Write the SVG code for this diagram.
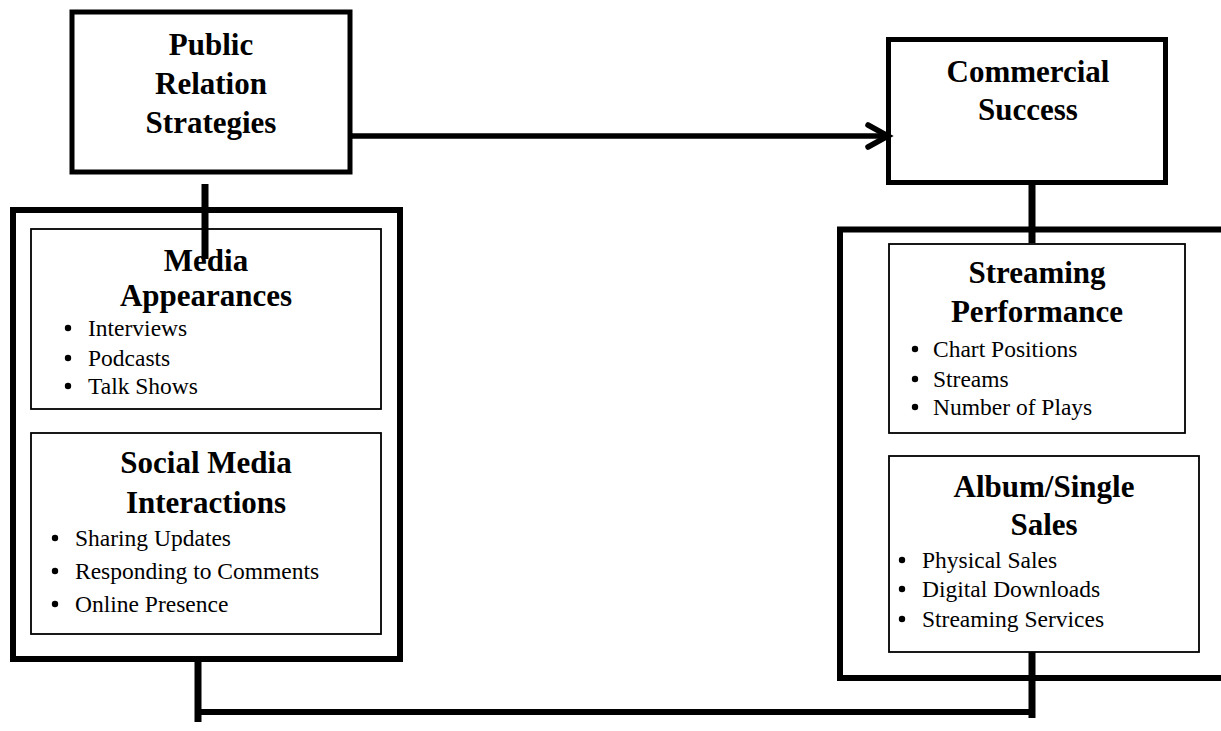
<svg xmlns="http://www.w3.org/2000/svg" width="1221" height="731" viewBox="0 0 1221 731">
<style>
.main{fill:#fff;stroke:#000;stroke-width:5}
.frame{fill:none;stroke:#000;stroke-width:6}
.inner{fill:#fff;stroke:#000;stroke-width:1.8}
.t{font-family:"Liberation Serif","Times New Roman",serif;font-weight:bold;font-size:31px;text-anchor:middle;fill:#000}
.b{font-family:"Liberation Serif","Times New Roman",serif;font-size:23.5px;fill:#000}
.dot{fill:#000}
.c{stroke:#000;stroke-width:7;fill:none}
</style>
<rect width="1221" height="731" fill="#fff"/>
<g id="pr">
<rect class="main" x="72" y="12" width="278" height="160"/>
<text class="t" x="211" y="55">Public</text>
<text class="t" x="211" y="94">Relation</text>
<text class="t" x="211" y="133">Strategies</text>
</g>
<g id="cs">
<rect class="main" x="888.5" y="39.5" width="277" height="143"/>
<text class="t" x="1028" y="82">Commercial</text>
<text class="t" x="1028" y="120">Success</text>
</g>
<g id="left-group">
<rect class="frame" x="13" y="210" width="387" height="449"/>
</g>
<g id="media">
<rect class="inner" x="31" y="229" width="350" height="180"/>
<text class="t" x="206" y="271">Media</text>
<text class="t" x="206" y="306">Appearances</text>
<circle class="dot" cx="68" cy="328" r="3.2"/><text class="b" x="88" y="336">Interviews</text>
<circle class="dot" cx="68" cy="358" r="3.2"/><text class="b" x="88" y="366">Podcasts</text>
<circle class="dot" cx="68" cy="386" r="3.2"/><text class="b" x="88" y="394">Talk Shows</text>
</g>
<g id="social">
<rect class="inner" x="31" y="433" width="350" height="201"/>
<text class="t" x="206" y="473">Social Media</text>
<text class="t" x="206" y="513">Interactions</text>
<circle class="dot" cx="55" cy="538" r="3.2"/><text class="b" x="75" y="546">Sharing Updates</text>
<circle class="dot" cx="55" cy="571" r="3.2"/><text class="b" x="75" y="579">Responding to Comments</text>
<circle class="dot" cx="55" cy="604" r="3.2"/><text class="b" x="75" y="612">Online Presence</text>
</g>
<g id="right-group">
<path class="frame" d="M1224 229.5 H840 V678 H1224"/>
</g>
<g id="streaming">
<rect class="inner" x="889" y="244" width="296" height="189"/>
<text class="t" x="1037" y="283">Streaming</text>
<text class="t" x="1037" y="322">Performance</text>
<circle class="dot" cx="915" cy="349" r="3.2"/><text class="b" x="933" y="357">Chart Positions</text>
<circle class="dot" cx="915" cy="379" r="3.2"/><text class="b" x="933" y="387">Streams</text>
<circle class="dot" cx="915" cy="407" r="3.2"/><text class="b" x="933" y="415">Number of Plays</text>
</g>
<g id="album">
<rect class="inner" x="889" y="456" width="310" height="196"/>
<text class="t" x="1044" y="497">Album/Single</text>
<text class="t" x="1044" y="535">Sales</text>
<circle class="dot" cx="902" cy="560" r="3.2"/><text class="b" x="922" y="568">Physical Sales</text>
<circle class="dot" cx="902" cy="589" r="3.2"/><text class="b" x="922" y="597">Digital Downloads</text>
<circle class="dot" cx="902" cy="619" r="3.2"/><text class="b" x="922" y="627">Streaming Services</text>
</g>
<g id="connectors">
<line x1="352" y1="136" x2="887" y2="136" stroke="#000" stroke-width="5.5"/>
<polyline points="868,125 888,136 868,147" fill="none" stroke="#000" stroke-width="5.5" stroke-linecap="round" stroke-linejoin="miter"/>
<line class="c" x1="205" y1="184" x2="205" y2="259"/>
<line class="c" x1="1032" y1="184" x2="1032" y2="243"/>
<line class="c" x1="198" y1="657" x2="198" y2="722"/>
<line x1="198" y1="712" x2="1035" y2="712" stroke="#000" stroke-width="6"/>
<line class="c" x1="1032" y1="652" x2="1032" y2="718"/>
</g>
</svg>
